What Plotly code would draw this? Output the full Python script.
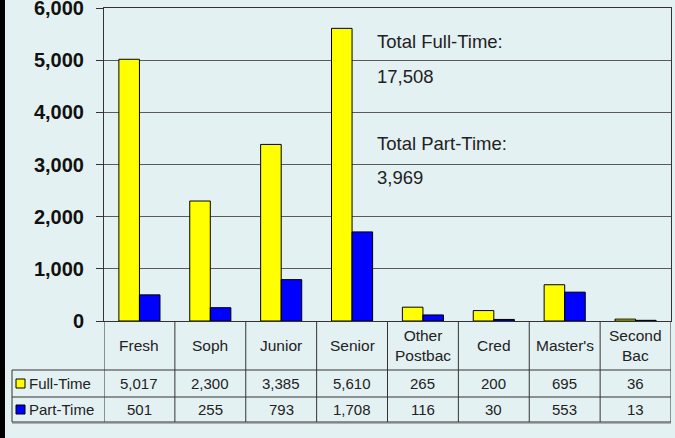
import plotly.graph_objects as go

categories = ["Fresh", "Soph", "Junior", "Senior", "Other<br>Postbac", "Cred", "Master's", "Second<br>Bac"]
full_time = [5017, 2300, 3385, 5610, 265, 200, 695, 36]
part_time = [501, 255, 793, 1708, 116, 30, 553, 13]
series_names = ["Full-Time", "Part-Time"]
series_colors = ["#FFFF00", "#0000FF"]
y_ticks = [0, 1000, 2000, 3000, 4000, 5000, 6000]

W, H = 675, 438
L, R, T, B = 104, 4, 8, 117
pw = W - L - R
ph = H - T - B

def px_x(p):
    return (p - L) / pw

def px_y(p):
    return (H - B - p) / ph

bg = "#E4F1F2"
line_c = "#333333"
FONT = "Liberation Sans, Arial"

fig = go.Figure()
xs = list(range(len(categories)))
for name, vals, col in zip(series_names, [full_time, part_time], series_colors):
    fig.add_trace(go.Bar(x=xs, y=vals, name=name, marker=dict(color=col, line=dict(color="#000000", width=1)),
                         showlegend=False, hoverinfo="skip"))

shapes = []
annotations = []

# left black strip
shapes.append(dict(type="rect", xref="paper", yref="paper", x0=px_x(0), x1=px_x(5), y0=px_y(H), y1=px_y(0),
                   fillcolor="#000000", line=dict(width=0), layer="above"))

row_cat_bot = 370
row_ft_bot = 397
row_pt_bot = 422
left_legend = 12

for yy in [row_cat_bot, row_ft_bot, row_pt_bot]:
    shapes.append(dict(type="line", xref="paper", yref="paper", x0=px_x(left_legend), x1=1,
                       y0=px_y(yy), y1=px_y(yy), line=dict(color=line_c, width=1)))
shapes.append(dict(type="line", xref="paper", yref="paper", x0=px_x(left_legend), x1=1,
                   y0=px_y(row_pt_bot + 1), y1=px_y(row_pt_bot + 1), line=dict(color="#777777", width=1)))
shapes.append(dict(type="line", xref="paper", yref="paper", x0=px_x(left_legend), x1=px_x(left_legend),
                   y0=px_y(row_cat_bot), y1=px_y(row_pt_bot), line=dict(color=line_c, width=1)))
for i in range(len(categories) + 1):
    shapes.append(dict(type="line", xref="x", yref="paper", x0=i - 0.5, x1=i - 0.5,
                       y0=0, y1=px_y(row_pt_bot), line=dict(color=line_c, width=1)))

for i, c in enumerate(categories):
    annotations.append(dict(x=i, y=px_y((321 + row_cat_bot) / 2), xref="x", yref="paper", text=c,
                            showarrow=False, font=dict(family=FONT, size=15.5, color="#222222"),
                            xanchor="center", yanchor="middle"))

rows = [(full_time, (row_cat_bot + row_ft_bot) / 2), (part_time, (row_ft_bot + row_pt_bot) / 2)]
for (vals, yc), name, col in zip(rows, series_names, series_colors):
    for i, v in enumerate(vals):
        annotations.append(dict(x=i, y=px_y(yc), xref="x", yref="paper", text=f"{v:,}",
                                showarrow=False, font=dict(family=FONT, size=15, color="#222222"),
                                xanchor="center", yanchor="middle"))
    shapes.append(dict(type="rect", xref="paper", yref="paper", x0=px_x(16), x1=px_x(25),
                       y0=px_y(yc + 4.5), y1=px_y(yc - 4.5), fillcolor=col, line=dict(color="#000000", width=1)))
    annotations.append(dict(x=px_x(27), y=px_y(yc), xref="paper", yref="paper", text=name,
                            showarrow=False, font=dict(family=FONT, size=15, color="#222222"),
                            xanchor="left", yanchor="middle"))

tot_ft = sum(full_time)
tot_pt = sum(part_time)
for txt, yy in [("Total Full-Time:", 42), (f"{tot_ft:,}", 76), ("Total Part-Time:", 143), (f"{tot_pt:,}", 177)]:
    annotations.append(dict(x=px_x(375), y=px_y(yy), xref="paper", yref="paper", text=txt, showarrow=False,
                            font=dict(family=FONT, size=18.5, color="#222222"),
                            xanchor="left", yanchor="middle"))

fig.update_layout(
    width=W, height=H,
    margin=dict(l=L, r=R, t=T, b=B),
    paper_bgcolor=bg, plot_bgcolor=bg,
    barmode="group", bargap=0.42, bargroupgap=0,
    shapes=shapes, annotations=annotations,
    hovermode=False,
    xaxis=dict(range=[-0.5, len(categories) - 0.5], showticklabels=False, showgrid=False, zeroline=False,
               showline=True, linecolor=line_c, linewidth=1, mirror=True, ticks=""),
    yaxis=dict(range=[0, 6000], tickvals=y_ticks, tickformat=",", showgrid=True, gridcolor="#5a5a5a", gridwidth=1,
               zeroline=False, showline=True, linecolor=line_c, linewidth=1, mirror=True,
               ticks="outside", ticklen=7, tickcolor=line_c, ticklabelstandoff=8, ticklabeloverflow="allow",
               automargin=False,
               tickfont=dict(family=FONT, size=20, color="#111111", weight="bold")),
)

fig.write_html("out.html", config={"displayModeBar": False, "staticPlot": True},
               post_script="document.body.style.margin='0';document.body.style.padding='0';")
